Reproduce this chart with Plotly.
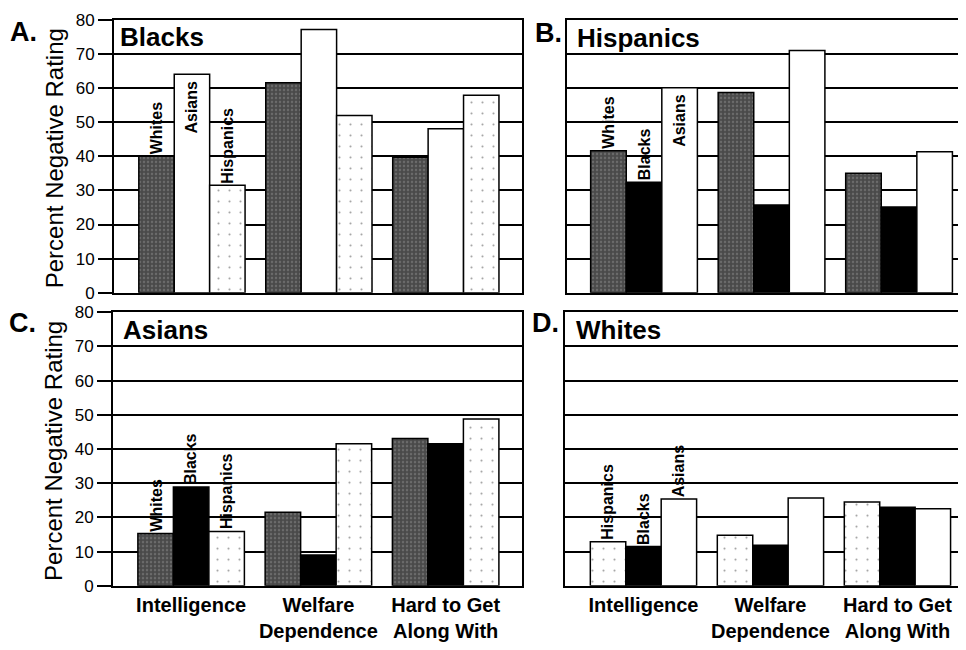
import plotly.graph_objects as go

# ---------------- data ----------------
groups = ["Intelligence", "Welfare Dependence", "Hard to Get Along With"]
group_ticktext = ["Intelligence", "Welfare<br>Dependence", "Hard to Get<br>Along With"]
y_ticks = [0, 10, 20, 30, 40, 50, 60, 70, 80]

panel_letters = ["A.", "B.", "C.", "D."]
panel_titles = ["Blacks", "Hispanics", "Asians", "Whites"]

raters_A = ["Whites", "Asians", "Hispanics"]
whites_A = [40.0, 61.6, 39.7]
asians_A = [64.1, 77.2, 48.1]
hispanics_A = [31.5, 52.0, 57.9]

raters_B = ["Whites", "Blacks", "Asians"]
whites_B = [41.6, 58.7, 35.0]
blacks_B = [32.4, 25.7, 25.1]
asians_B = [60.1, 71.0, 41.3]

raters_C = ["Whites", "Blacks", "Hispanics"]
whites_C = [15.3, 21.5, 43.1]
blacks_C = [28.9, 9.0, 41.5]
hispanics_C = [15.9, 41.5, 48.8]

raters_D = ["Hispanics", "Blacks", "Asians"]
hispanics_D = [12.9, 14.8, 24.5]
blacks_D = [11.5, 11.9, 23.0]
asians_D = [25.4, 25.7, 22.5]

panels = [
    (raters_A, [whites_A, asians_A, hispanics_A]),
    (raters_B, [whites_B, blacks_B, asians_B]),
    (raters_C, [whites_C, blacks_C, hispanics_C]),
    (raters_D, [hispanics_D, blacks_D, asians_D]),
]

# ---------------- styles ----------------
W, H = 966, 650
OFF = 8          # default page margin of the html body
FONT = "Liberation Sans"
BARGAP = 0.163


def px_x(v):
    return (v - OFF) / W


def px_y(v):
    return 1 - (v - OFF) / H


rater_style = {
    "Whites": dict(color="#555555",
                   pattern=dict(shape=".", fgcolor="#8c8c8c", bgcolor="#4a4a4a",
                                size=4, solidity=0.3)),
    "Blacks": dict(color="#000000"),
    "Asians": dict(color="#ffffff"),
    "Hispanics": dict(color="#ffffff",
                      pattern=dict(shape=".", fgcolor="#444444", bgcolor="#ffffff",
                                   size=11, solidity=0.03)),
}

# viewport pixel layout of each panel: (left, right, top(80), bottom(0))
panel_px = [
    (114, 522, 11, 292),
    (567, 966, 11, 292),
    (113, 522, 312, 594),
    (565, 966, 312, 594),
]
panel_xrange = [
    (-0.614, 2.60),
    (-0.604, 2.525),
    (-0.614, 2.60),
    (-0.618, 2.54),
]
is_left = [True, False, True, False]
is_bottom = [False, False, True, True]
# which first-group labels sit inside the top of their bar
label_inside = [
    [False, True, False],
    [False, False, True],
    [False, False, False],
    [False, False, False],
]
letter_pos = [(8, 23), (533, 24), (7, 323), (530, 323)]
title_pos = [(118, 29), (575, 30), (121, 330), (574, 330)]

fig = go.Figure()
annotations = []

for p, (raters, series) in enumerate(panels):
    ax = "" if p == 0 else str(p + 1)
    xref, yref = "x" + ax, "y" + ax
    for rater, vals in zip(raters, series):
        st = rater_style[rater]
        marker = dict(color=st["color"], line=dict(color="black", width=1.5))
        if "pattern" in st:
            marker["pattern"] = st["pattern"]
        fig.add_trace(go.Bar(x=groups, y=vals, name=rater, marker=marker,
                             xaxis=xref, yaxis=yref, showlegend=False,
                             hoverinfo="x+y+name"))

    l, r, t, b = panel_px[p]
    xd = [px_x(l), px_x(r)]
    yd = [px_y(b), px_y(t)]
    x0, x1 = panel_xrange[p]
    xaxis = dict(domain=xd, anchor=yref, type="category", range=[x0, x1],
                 showgrid=False, showline=True, linecolor="black", linewidth=2,
                 mirror=True, ticks="", categoryorder="array", categoryarray=groups,
                 tickvals=groups, ticktext=group_ticktext,
                 showticklabels=is_bottom[p],
                 tickfont=dict(family=FONT, size=20, color="black", weight="bold"))
    yaxis = dict(domain=yd, anchor=xref, range=[0, 80], tickvals=y_ticks,
                 showgrid=True, gridcolor="black", gridwidth=1.6, zeroline=False,
                 showline=True, linecolor="black", linewidth=2,
                 mirror=True if is_left[p] else False,
                 ticks="outside" if is_left[p] else "", ticklen=14, tickwidth=1.6,
                 tickcolor="black", showticklabels=is_left[p],
                 tickfont=dict(family=FONT, size=17, color="black"))
    fig.layout["xaxis" + ax] = xaxis
    fig.layout["yaxis" + ax] = yaxis

    # rotated rater labels above the first group
    px_per_unit = (r - l) / (x1 - x0)
    bar_px = (1 - BARGAP) / 3 * px_per_unit
    for i, (rater, vals) in enumerate(zip(raters, series)):
        inside = label_inside[p][i]
        annotations.append(dict(
            x=groups[0], y=vals[0], xref=xref, yref=yref, text=rater,
            textangle=-90, showarrow=False, xshift=(i - 1) * bar_px,
            yanchor="top" if inside else "bottom", yshift=-4 if inside else 0,
            font=dict(family=FONT, size=16, color="black", weight="bold")))

    lx, ly = letter_pos[p]
    annotations.append(dict(x=px_x(lx), y=px_y(ly), xref="paper", yref="paper",
                            text=panel_letters[p], showarrow=False,
                            xanchor="left", yanchor="middle",
                            font=dict(family=FONT, size=27, color="black", weight="bold")))
    tx, ty = title_pos[p]
    annotations.append(dict(x=px_x(tx), y=px_y(ty), xref="paper", yref="paper",
                            text=panel_titles[p], showarrow=False,
                            xanchor="left", yanchor="middle",
                            font=dict(family=FONT, size=26, color="black", weight="bold")))
    if is_left[p]:
        annotations.append(dict(x=px_x(54), y=px_y((t + b) / 2 + 2),
                                xref="paper", yref="paper",
                                text="Percent Negative Rating", textangle=-90,
                                showarrow=False, xanchor="center", yanchor="middle",
                                font=dict(family=FONT, size=24, color="black")))

fig.update_layout(
    width=W, height=H, margin=dict(l=0, r=0, t=0, b=0),
    barmode="group", bargap=BARGAP, bargroupgap=0,
    paper_bgcolor="white", plot_bgcolor="white",
    annotations=annotations, showlegend=False,
)

fig.write_html("out.html")
